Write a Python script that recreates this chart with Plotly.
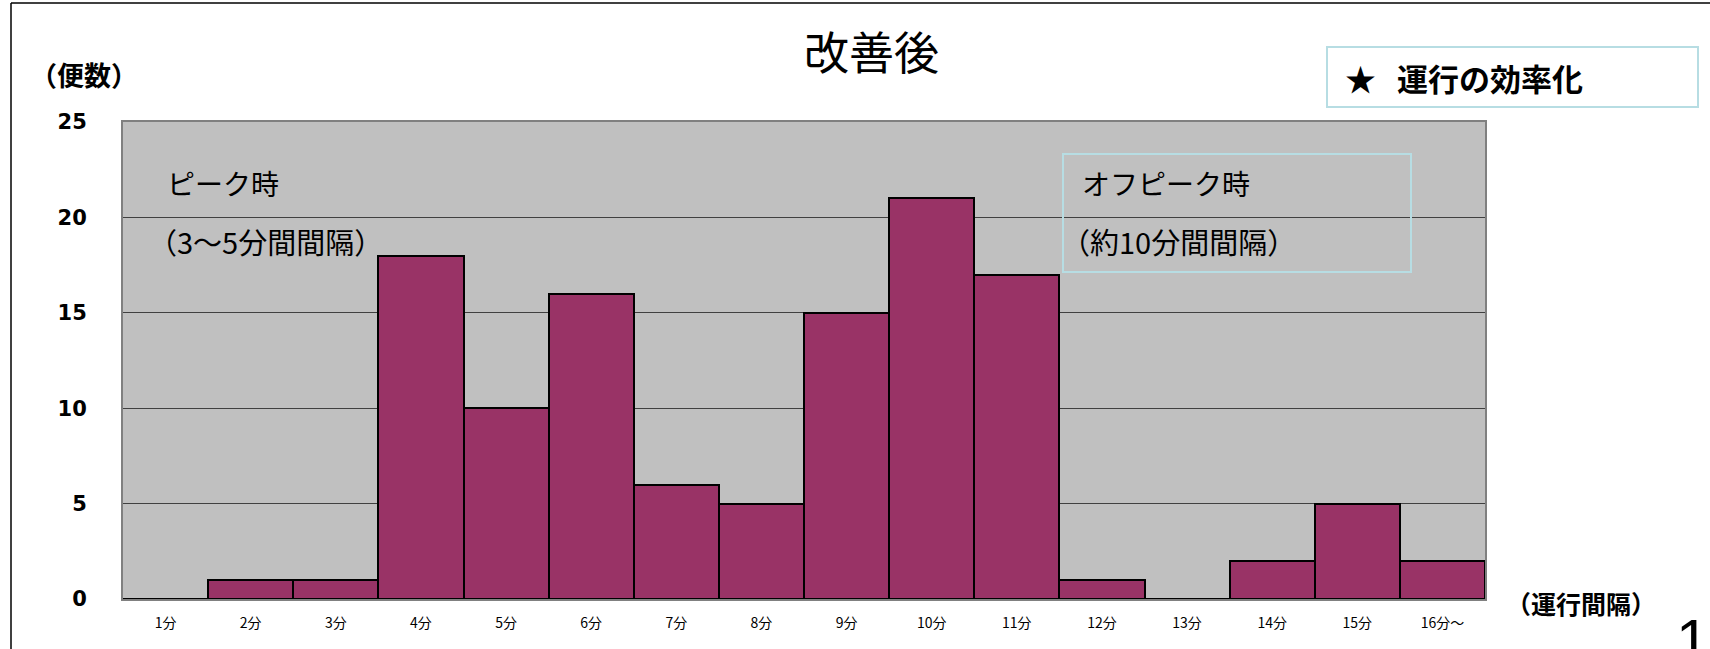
import plotly.graph_objects as go

categories = ["1分", "2分", "3分", "4分", "5分", "6分", "7分", "8分",
              "9分", "10分", "11分", "12分", "13分", "14分", "15分", "16分～"]
counts = [0, 1, 1, 18, 10, 16, 6, 5, 15, 21, 17, 1, 0, 2, 5, 2]
y_ticks = [0, 5, 10, 15, 20, 25]
y_tick_labels = ["0", "5", "10", "15", "20", "25"]

W, H = 1710, 649
L, R, T, B = 123, 1485, 122, 599
JP = "Noto Sans CJK JP"


def px(x):
    return (x - L) / (R - L)


def py(y):
    return (B - y) / (B - T)


fig = go.Figure(go.Bar(
    x=categories, y=counts,
    marker=dict(color="#993366", line=dict(color="#000000", width=2)),
    hoverinfo="x+y",
))

fig.update_layout(
    width=W, height=H,
    margin=dict(l=L, r=W - R, t=T, b=H - B),
    paper_bgcolor="#ffffff",
    plot_bgcolor="#C0C0C0",
    bargap=0,
    showlegend=False,
    font=dict(family=JP, color="#000000"),
)

fig.update_xaxes(
    type="category",
    showgrid=False,
    showline=True, linecolor="#808080", linewidth=2, mirror=True,
    ticks="", ticklen=0,
    tickfont=dict(family=JP, size=14, color="#000000"),
    ticklabelstandoff=10,
)
fig.update_yaxes(
    range=[0, 25],
    tickvals=y_ticks, ticktext=y_tick_labels,
    showgrid=True, gridcolor="#404040", gridwidth=1,
    showline=True, linecolor="#808080", linewidth=2, mirror=True,
    zeroline=False,
    ticks="", ticklen=0,
    tickfont=dict(family="DejaVu Sans", size=21, color="#000000", weight="bold"),
    ticklabelstandoff=30,
)

anns = [
    dict(text="改善後", x=px(871), y=py(51), xanchor="center", yanchor="middle",
         font=dict(size=45)),
    dict(text="（便数）", x=px(28), y=py(75), xanchor="left", yanchor="middle",
         font=dict(size=27, weight="bold")),
    dict(text="★   運行の効率化", x=px(1343), y=py(77), xanchor="left", yanchor="middle",
         font=dict(size=31, weight="bold")),
    dict(text="ピーク時", x=px(165), y=py(183), xanchor="left", yanchor="middle",
         font=dict(size=28)),
    dict(text="（3～5分間間隔）", x=px(146), y=py(241), xanchor="left", yanchor="middle",
         font=dict(size=29)),
    dict(text="オフピーク時", x=px(1080), y=py(183), xanchor="left", yanchor="middle",
         font=dict(size=28)),
    dict(text="（約10分間間隔）", x=px(1059), y=py(241), xanchor="left", yanchor="middle",
         font=dict(size=29)),
    dict(text="（運行間隔）", x=px(1504), y=py(603), xanchor="left", yanchor="middle",
         font=dict(size=25, weight="bold")),
    dict(text="10", x=px(1674), y=py(640), xanchor="left", yanchor="middle",
         font=dict(family="Liberation Sans", size=60)),
]
for a in anns:
    a.update(xref="paper", yref="paper", showarrow=False)
    fig.add_annotation(**a)

shapes = [
    # outer page frame
    dict(type="line", x0=px(11), x1=px(11), y0=py(3), y1=py(660),
         line=dict(color="#000000", width=1.5)),
    dict(type="line", x0=px(11), x1=px(1720), y0=py(3), y1=py(3),
         line=dict(color="#000000", width=1.5)),
    # boxes
    dict(type="rect", x0=px(1327), x1=px(1698), y0=py(47), y1=py(107),
         line=dict(color="#B7DDE3", width=2), fillcolor="rgba(0,0,0,0)"),
    dict(type="rect", x0=px(1063), x1=px(1411), y0=py(154), y1=py(272),
         line=dict(color="#B7DDE3", width=2), fillcolor="rgba(0,0,0,0)"),
]
for s in shapes:
    s.update(xref="paper", yref="paper")
    fig.add_shape(**s)

fig.write_html("out.html")
